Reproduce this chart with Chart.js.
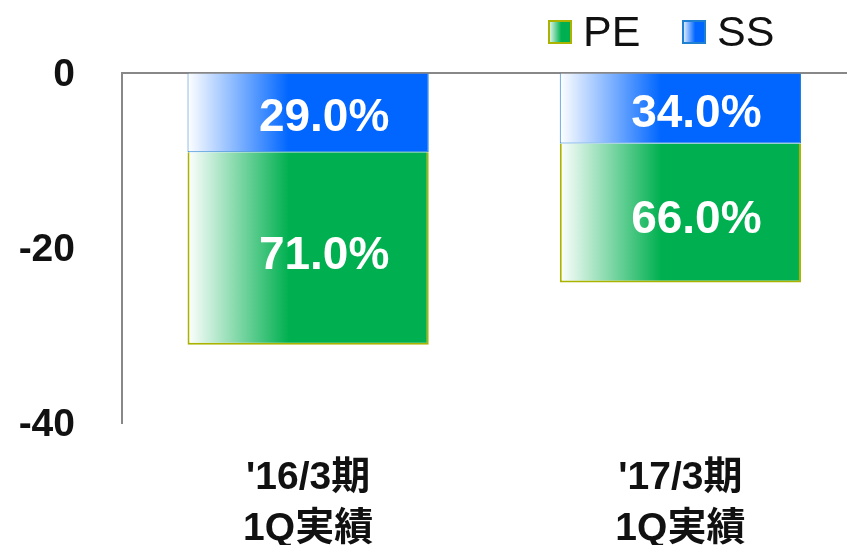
<!DOCTYPE html>
<html>
<head>
<meta charset="utf-8">
<script src="https://cdn.jsdelivr.net/npm/chart.js@4.4.1/dist/chart.umd.min.js"></script>
<style>
    html, body { margin: 0; padding: 0; background: #fff; overflow: hidden; }
    #wrap { width: 870px; height: 545px; }
</style>
</head>
<body>
<div id="wrap"><canvas id="mixChart" width="870" height="545"></canvas></div>
<script>
// categories (two lines each)
const categories = [["'16/3期", '1Q実績'], ["'17/3期", '1Q実績']];
// stacked downward from 0
const ssValues = [-9.1, -8.1];
const peValues = [-22.0, -15.9];
const ssLabels = ['29.0%', '34.0%'];
const peLabels = ['71.0%', '66.0%'];
const yTicks = [0, -20, -40];

const BLUE = '#0066FF';
const GREEN = '#00B050';
const BAR_PCT = 0.648;
const FONT = "'Liberation Sans', Arial, 'Noto Sans CJK JP', sans-serif";

// white -> solid gradient across the bar width
function barGradient(ctx, color) {
    const chart = ctx.chart;
    const xs = chart.scales.x;
    if (ctx.dataIndex === undefined || !xs || !chart.chartArea) return color;
    const w = xs.width / categories.length * BAR_PCT;
    const cx = xs.getPixelForValue(ctx.dataIndex);
    const g = chart.ctx.createLinearGradient(cx - w / 2, 0, cx + w / 2, 0);
    g.addColorStop(0, '#ffffff');
    g.addColorStop(0.42, color);
    g.addColorStop(1, color);
    return g;
}

// percentage labels inside the bars
const shareLabels = {
    id: 'shareLabels',
    afterDatasetsDraw(chart) {
        const c = chart.ctx;
        const texts = [ssLabels, peLabels];
        c.save();
        c.fillStyle = '#ffffff';
        c.font = 'bold 46px ' + FONT;
        c.textAlign = 'center';
        c.textBaseline = 'alphabetic';
        chart.data.datasets.forEach((ds, di) => {
            chart.getDatasetMeta(di).data.forEach((bar, i) => {
                const cy = (bar.y + bar.base) / 2;
                const dy = di === 0 ? 2 : 4;
                c.fillText(texts[di][i], bar.x + 16, cy + 16.5 + dy);
            });
        });
        c.restore();
    }
};

// legend: PE then SS, top right
const topLegend = {
    id: 'topLegend',
    afterDraw(chart) {
        const c = chart.ctx;
        const items = [
            { x: 548, text: 'PE', color: GREEN, border: '#A9B300' },
            { x: 682, text: 'SS', color: BLUE, border: '#1F7FD0' }
        ];
        c.save();
        items.forEach(it => {
            const g = c.createLinearGradient(it.x, 0, it.x + 24, 0);
            g.addColorStop(0, '#ffffff');
            g.addColorStop(0.55, it.color);
            g.addColorStop(1, it.color);
            c.fillStyle = g;
            c.fillRect(it.x, 20, 24, 24);
            c.strokeStyle = it.border;
            c.lineWidth = 2;
            c.strokeRect(it.x + 1, 21, 22, 22);
            c.fillStyle = '#111111';
            c.font = '43px ' + FONT;
            c.textBaseline = 'alphabetic';
            c.textAlign = 'left';
            c.fillText(it.text, it.x + 35, 46);
        });
        c.restore();
    }
};

new Chart(document.getElementById('mixChart'), {
    type: 'bar',
    data: {
        labels: categories,
        datasets: [
            {
                label: 'SS',
                data: ssValues,
                backgroundColor: ctx => barGradient(ctx, BLUE),
                borderColor: '#1F7FD0',
                borderWidth: 1
            },
            {
                label: 'PE',
                data: peValues,
                backgroundColor: ctx => barGradient(ctx, GREEN),
                borderColor: '#A9B300',
                borderWidth: 2
            }
        ]
    },
    options: {
        responsive: false,
        animation: false,
        layout: { padding: { left: 18, right: 3.5, top: 72.5, bottom: 0 } },
        datasets: { bar: { categoryPercentage: 1, barPercentage: BAR_PCT } },
        plugins: {
            legend: { display: false },
            tooltip: { enabled: false }
        },
        scales: {
            x: {
                stacked: true,
                grid: { display: false },
                border: { display: false },
                ticks: {
                    color: '#111111',
                    padding: 22,
                    font: { family: FONT, size: 39, weight: 'bold', lineHeight: 51 / 39 }
                },
                afterFit: s => { s.height = 122.5; }
            },
            y: {
                stacked: true,
                min: -40,
                max: 0,
                afterBuildTicks: s => { s.ticks = yTicks.map(v => ({ value: v })); },
                border: { display: true, color: '#888888', width: 2 },
                grid: {
                    drawTicks: false,
                    lineWidth: 2,
                    color: ctx => (ctx.tick && ctx.tick.value === 0 ? '#888888' : 'rgba(0,0,0,0)')
                },
                ticks: {
                    color: '#111111',
                    padding: 47,
                    labelOffset: 3,
                    font: { family: FONT, size: 39, weight: 'bold' }
                },
                afterFit: s => { s.width = 104; }
            }
        }
    },
    plugins: [shareLabels, topLegend]
});
</script>
</body>
</html>
